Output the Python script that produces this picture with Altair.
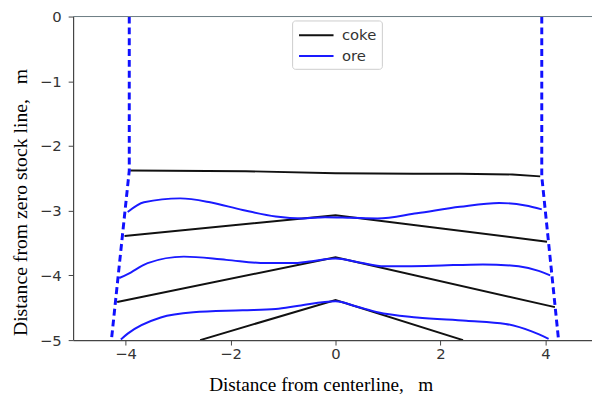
import altair as alt
import pandas as pd

# coke layers (black, piecewise linear)
coke1_x = [-3.91, -1.71, 0.0, 1.49, 2.37, 3.37, 3.90]
coke1_y = [-2.38, -2.39, -2.42, -2.43, -2.43, -2.44, -2.47]
coke2_x = [-4.02, 0.0, 4.03]
coke2_y = [-3.39, -3.07, -3.48]
coke3_x = [-4.16, 0.0, 4.18]
coke3_y = [-4.41, -3.72, -4.49]
coke4_x = [-2.58, 0.0, 2.43]
coke4_y = [-5.00, -4.38, -5.00]

# ore layers (blue, smooth)
ore1_x = [-3.96, -3.65, -2.96, -2.39, -1.77, -1.14, -0.64, -0.2, 0.3, 0.8, 1.55, 2.37, 3.12, 3.62, 3.93]
ore1_y = [-3.02, -2.87, -2.81, -2.87, -2.99, -3.09, -3.12, -3.10, -3.11, -3.12, -3.04, -2.94, -2.88, -2.92, -2.98]
ore2_x = [-4.12, -3.96, -3.58, -2.89, -2.08, -1.33, -0.83, -0.45, 0.0, 0.45, 0.93, 1.87, 2.81, 3.49, 3.87, 4.09]
ore2_y = [-4.04, -3.98, -3.81, -3.71, -3.76, -3.81, -3.81, -3.78, -3.74, -3.80, -3.86, -3.85, -3.83, -3.86, -3.93, -4.00]
ore3_x = [-4.09, -3.96, -3.33, -2.71, -1.77, -1.14, -0.70, 0.0, 0.4, 0.8, 1.55, 2.49, 3.24, 3.75, 4.06]
ore3_y = [-4.99, -4.90, -4.65, -4.57, -4.54, -4.52, -4.47, -4.40, -4.48, -4.57, -4.65, -4.70, -4.75, -4.87, -4.98]

# furnace wall profiles (blue dashed)
wall_left_x = [-3.93, -3.93, -4.27]
wall_left_y = [0.0, -2.38, -5.0]
wall_right_x = [3.93, 3.93, 4.25]
wall_right_y = [0.0, -2.47, -5.0]

x_ticks = [-4, -2, 0, 2, 4]
y_ticks = [-5, -4, -3, -2, -1, 0]
x_domain = [-5.0, 4.887]
y_domain = [-5.0, 0.0]


def rows(xs, ys, kind, gid):
    return [{"x": a, "y": b, "kind": kind, "gid": gid, "i": k} for k, (a, b) in enumerate(zip(xs, ys))]


coke_rows = (rows(coke1_x, coke1_y, "coke", "c1") + rows(coke2_x, coke2_y, "coke", "c2")
             + rows(coke3_x, coke3_y, "coke", "c3") + rows(coke4_x, coke4_y, "coke", "c4"))
ore_rows = (rows(ore1_x, ore1_y, "ore", "o1") + rows(ore2_x, ore2_y, "ore", "o2")
            + rows(ore3_x, ore3_y, "ore", "o3"))
wall_rows = rows(wall_left_x, wall_left_y, "wall", "wl") + rows(wall_right_x, wall_right_y, "wall", "wr")

W, H = 526, 328

xs = alt.Scale(domain=x_domain, nice=False, zero=False)
ys = alt.Scale(domain=y_domain, nice=False, zero=False)

x_axis = alt.Axis(values=x_ticks, format="d", grid=False, title="Distance from centerline,\u00a0\u00a0 m",
                  titleX=251, titleY=45, titleBaseline="middle", titleAnchor="middle",
                  titleFontSize=19.5, labelPadding=2, labelFlush=False)
y_axis = alt.Axis(values=y_ticks, format="d", grid=False, title="Distance from zero stock line,\u00a0\u00a0 m",
                  titleX=-53, titleY=188, titleBaseline="middle", titleAngle=270, titleAlign="center",
                  titleFontSize=20, labelPadding=7, labelFlush=False)

color = alt.Color("kind:N",
                  scale=alt.Scale(domain=["coke", "ore"], range=["#111111", "#1a1aff"]),
                  legend=alt.Legend(title=None, orient="none", legendX=222, legendY=4,
                                    symbolType="M-2,0H2", symbolSize=306, symbolStrokeWidth=2,
                                    symbolOffset=9.5,
                                    labelFont="DejaVu Sans", labelFontSize=15, labelColor="#333333",
                                    padding=5, strokeColor="#cccccc", fillColor="white",
                                    cornerRadius=3, labelOffset=16, rowPadding=3))

coke = alt.Chart(pd.DataFrame(coke_rows)).mark_line(strokeWidth=2, clip=True).encode(
    x=alt.X("x:Q", scale=xs, axis=x_axis),
    y=alt.Y("y:Q", scale=ys, axis=y_axis),
    color=color, detail="gid:N", order="i:Q")

ore = alt.Chart(pd.DataFrame(ore_rows)).mark_line(strokeWidth=2, clip=True, interpolate="monotone").encode(
    x=alt.X("x:Q", scale=xs),
    y=alt.Y("y:Q", scale=ys),
    color=color, detail="gid:N", order="i:Q")

wall = alt.Chart(pd.DataFrame(wall_rows)).mark_line(strokeWidth=3, color="#1010ff",
                                                     strokeDash=[7, 4], clip=True).encode(
    x=alt.X("x:Q", scale=xs),
    y=alt.Y("y:Q", scale=ys),
    detail="gid:N", order="i:Q")

top_spine = alt.Chart(pd.DataFrame({"a": [0]})).mark_rule(color="#6a7a80", strokeWidth=1).encode(
    x=alt.value(0), x2=alt.value(W), y=alt.value(0))

chart = alt.layer(coke, ore, wall, top_spine).properties(
    width=W, height=H,
    padding={"left": 66, "top": 6, "right": 0, "bottom": 54},
    autosize=alt.AutoSizeParams(type="none"),
).configure_view(stroke=None).configure_axis(
    labelFont="DejaVu Sans", labelFontSize=15, labelColor="#333333",
    tickSize=5, tickColor="#444444", domainColor="#444444", domainWidth=1.2,
    titleFont="Liberation Serif", titleFontWeight="normal", titleColor="#000000",
)

chart.save("out.html", embed_options={"renderer": "svg", "actions": False})
